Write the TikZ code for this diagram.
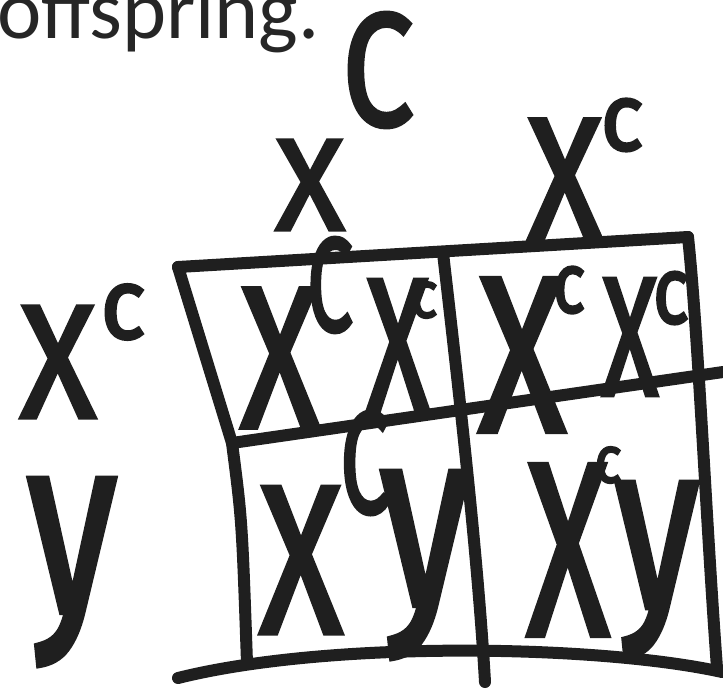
\documentclass[tikz,border=0pt]{standalone}
\usepackage{fontspec}
\setmainfont{Carlito}
\newfontfamily\penfont{Fira Sans}[FakeBold=3]
\newcommand{\pen}[1]{\penfont\fontsize{#1}{#1}\selectfont}

\begin{document}
\begin{tikzpicture}[
  x=1pt, y=-1pt,
  ink/.style={draw=black!88, line width=12pt, line cap=round, line join=round},
  pen/.style={inner sep=0pt, text=black!88, transform shape, xscale=0.72},
  print/.style={inner sep=0pt, anchor=base west, text=black!85, font=\fontsize{84}{84}\selectfont}
]
\useasboundingbox (0,0) rectangle (723,689);

\node[print] (title) at (-3,38) {offspring.};

% parent gametes
\node[pen, font=\pen{130}, xscale=1.35] (hx1) at (310,185) {X};
\node[pen, font=\pen{160}, xscale=1.1] (hc1) at (378,70) {C};
\node[pen, font=\pen{175}, xscale=1.1] (hx2) at (565,180) {X};
\node[pen, font=\pen{95}, xscale=1.3] (hc2) at (622,125) {c};
\node[pen, font=\pen{160}, xscale=1.2] (rx1) at (58,362) {X};
\node[pen, font=\pen{100}, xscale=1.3] (rc1) at (123,312) {c};
\node[pen, font=\pen{250}] (ry2) at (72,572) {y};

% grid
\coordinate (tl) at (178,267);
\coordinate (tr) at (688,237);
\coordinate (ml) at (232,443);
\coordinate (mr) at (723,372);
\coordinate (bl) at (247,663);
\coordinate (br) at (717,668);
\coordinate (mt) at (443,253);
\coordinate (mb) at (485,682);
\coordinate (bs) at (178,678);
\coordinate (be) at (722,672);

\draw[ink] (tl) -- (tr);
\draw[ink] (tr) .. controls (698,330) and (706,520) .. (br);
\draw[ink] (tl) -- (ml) .. controls (242,520) .. (bl);
\draw[ink] (ml) -- (mr);
\draw[ink] (mt) .. controls (460,400) and (478,560) .. (mb);
\draw[ink] (bs) .. controls (330,640) and (600,645) .. (be);

% offspring
\node[pen, font=\pen{200}] (ax1) at (280,358) {X};
\node[pen, font=\pen{133}, xscale=0.85] (ac1) at (330,285) {C};
\node[pen, font=\pen{190}, xscale=0.85] (ax2) at (398,346) {X};
\node[pen, font=\pen{66}, xscale=1.2] (ac2) at (424,300) {c};
\node[pen, font=\pen{220}] (bx1) at (522,355) {X};
\node[pen, font=\pen{85}, xscale=1.1] (bc1) at (569,290) {c};
\node[pen, font=\pen{168}, xscale=0.85] (bx2) at (630,337) {X};
\node[pen, font=\pen{95}, xscale=1.1] (bc2) at (671,298) {c};
\node[pen, font=\pen{210}] (cx1) at (301,560) {X};
\node[pen, font=\pen{144}, xscale=0.85] (cc1) at (365,463) {C};
\node[pen, font=\pen{250}] (cy2) at (425,565) {y};
\node[pen, font=\pen{245}, xscale=0.85] (dx1) at (568,550) {X};
\node[pen, font=\pen{66}, xscale=1.2] (dc1) at (608,465) {c};
\node[pen, font=\pen{235}] (dy2) at (657,570) {y};
\end{tikzpicture}
\end{document}
